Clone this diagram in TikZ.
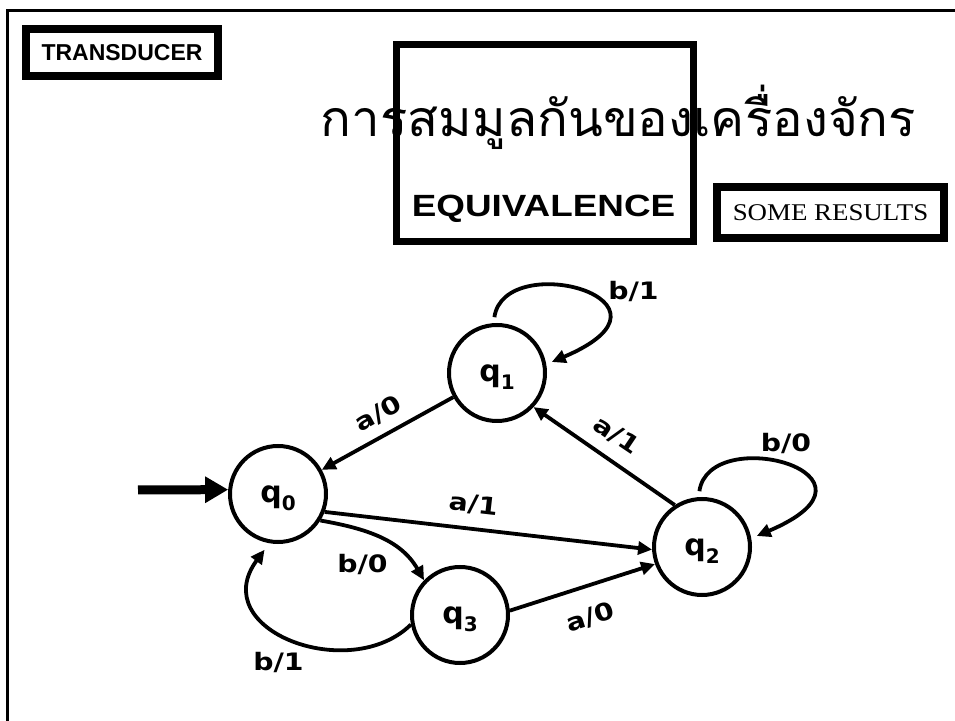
\documentclass[tikz,border=0pt]{standalone}
\usepackage{fontspec}
\usetikzlibrary{arrows.meta,calc}
\newfontfamily\thaifont[Script=Thai]{Loma}
\newfontfamily\arialfont{Liberation Sans}
\newfontfamily\timesfont{Liberation Serif}
\newfontfamily\dejafont{DejaVu Sans}
\newcommand\qs[1]{q\raisebox{-8pt}{\fontsize{20}{20}\selectfont #1}}
\newcommand\sx[1]{\scalebox{1.18}[1]{#1}}
\begin{document}
\begin{tikzpicture}[x=1pt,y=1pt,
  state/.style={circle, draw, line width=4pt, minimum size=96pt, inner sep=0pt,
    text height=17pt, text depth=0pt,
    font=\dejafont\bfseries\fontsize{30}{30}\selectfont},
  edge/.style={line width=3.8pt, -{Triangle[length=14pt,width=13pt]}},
  lbl/.style={font=\dejafont\bfseries\fontsize{24}{24}\selectfont, inner sep=0pt},
  tbox/.style={draw, line width=8pt, inner sep=0pt}]
\clip (0,0) rectangle (955,720);
\draw[line width=3pt] (7.5,709.5) rectangle (975,-20);
% titles
\node[tbox, minimum width=192pt, minimum height=47pt,
  font=\arialfont\bfseries\fontsize{23}{23}\selectfont] (trans) at (122,667.5) {TRANSDUCER};
\node[anchor=base, inner sep=0pt, font=\thaifont\fontsize{50}{50}\selectfont] (thai) at (618.5,583) {\scalebox{1.02}[1]{การสมมูลกันของเครื่องจักร}};
\node[tbox, line width=7pt, minimum width=297pt, minimum height=197pt] (eqbox) at (545,577) {};
\node[inner sep=0pt, font=\arialfont\bfseries\fontsize{30.7}{30.7}\selectfont] (eq) at (543.5,511) {\scalebox{1.2}[1]{EQUIVALENCE}};
\node[tbox, minimum width=227pt, minimum height=51pt,
  font=\timesfont\fontsize{24}{24}\selectfont] (some) at (830.5,507.5) {\scalebox{1.12}[1]{SOME RESULTS}};
% states
\node[state] (q0) at (278,226) {\qs{0}};
\node[state] (q1) at (497,347) {\qs{1}};
\node[state] (q2) at (702,173) {\qs{2}};
\node[state] (q3) at (460,105) {\qs{3}};
% start arrow
\coordinate (st) at (138,230);
\draw[line width=9pt, -{Triangle[length=23pt,width=25pt]}] (st) -- (q0.175);
% edges
\draw[edge] (q1) -- (q0);
\draw[edge] (q0.-21) -- (q2.183);
\draw[edge] (q2.123) -- (q1.-43);
\draw[edge] (q3.5) -- (q2.200);
\draw[edge] (q0.-32) to[out=-10, in=120] (q3.136);
\draw[edge, shorten >=8pt] (q3.191) .. controls +(-61,-60) and +(-64,-87) .. (q0.-100);
\draw[edge, shorten <=6pt, shorten >=6pt] (q1.94) .. controls +(11,75) and +(151,64) .. (q1.10);
\draw[edge, shorten <=6pt, shorten >=6pt] (q2.94) .. controls +(11,75) and +(151,64) .. (q2.10);
% labels
\node[lbl, rotate=29] (l10) at (378.5,306) {\sx{a/0}};
\node[lbl, rotate=-6.5] (l02) at (473.5,215) {\sx{a/1}};
\node[lbl, rotate=-34] (l21) at (616.5,284.5) {\sx{a/1}};
\node[lbl, rotate=18] (l32) at (590,102.5) {\sx{a/0}};
\node[lbl] (l03) at (362.5,156) {\sx{b/0}};
\node[lbl] (l30) at (278.5,58) {\sx{b/1}};
\node[lbl] (l11) at (633.5,428.5) {\sx{b/1}};
\node[lbl] (l22) at (786,276.5) {\sx{b/0}};
\end{tikzpicture}
\end{document}
